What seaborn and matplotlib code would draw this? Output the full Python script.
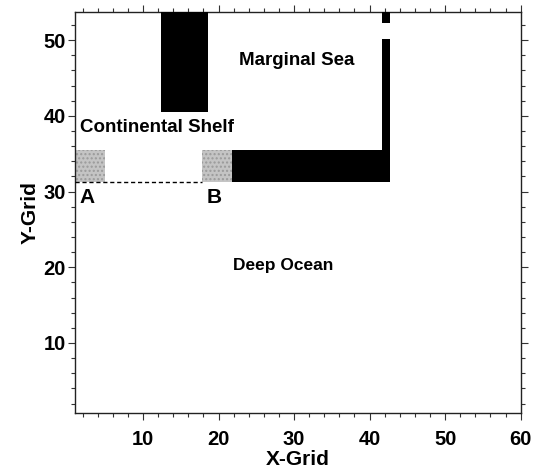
import matplotlib
matplotlib.use("Agg")
import matplotlib.pyplot as plt
from matplotlib.ticker import MultipleLocator
import seaborn as sns

sns.set_style("ticks")
plt.rcParams["font.family"] = ["Liberation Sans", "DejaVu Sans"]
plt.rcParams["text.color"] = "black"
plt.rcParams["axes.labelcolor"] = "black"

# Model domain features (grid units): blocks as x0, x1, y0, y1
land_names = ["ridge", "shelf_edge", "strait_lower", "strait_upper"]
land_x0 = [12.4, 21.75, 41.7, 41.7]
land_x1 = [18.6, 42.7, 42.7, 42.7]
land_y0 = [40.5, 31.3, 31.3, 52.2]
land_y1 = [54.0, 35.5, 50.2, 54.0]

shelf_names = ["A", "B"]
shelf_x0 = [1.0, 17.75]
shelf_x1 = [4.95, 21.75]
shelf_y0 = [31.3, 31.3]
shelf_y1 = [35.5, 35.5]

# Transect between the two shelf points
section_x = [1.0, 17.75]
section_y = [31.3, 31.3]

labels = ["Marginal Sea", "Continental Shelf", "A", "B", "Deep Ocean"]
label_x = [30.4, 1.65, 2.6, 19.4, 28.5]
label_y = [47.3, 38.4, 29.2, 29.2, 20.2]
label_ha = ["center", "left", "center", "center", "center"]
label_size = [13.5, 13.5, 15, 15, 12.5]

fig = plt.figure(figsize=(5.44, 4.71), dpi=100)
ax = fig.add_axes([0.1379, 0.1231, 0.957 - 0.1379, 0.9752 - 0.1231])

ax.bar(shelf_x0, [b - a for a, b in zip(shelf_y0, shelf_y1)],
       width=[b - a for a, b in zip(shelf_x0, shelf_x1)],
       bottom=shelf_y0, align="edge", color="#c4c4c4",
       edgecolor="#9a9a9a", hatch="....", linewidth=0, zorder=2)
ax.bar(land_x0, [b - a for a, b in zip(land_y0, land_y1)],
       width=[b - a for a, b in zip(land_x0, land_x1)],
       bottom=land_y0, align="edge", color="black", linewidth=0, zorder=3)

sns.lineplot(x=section_x, y=section_y, ax=ax, color="black",
             linestyle=(0, (3, 2)), linewidth=1.0, zorder=4)

for t, x, y, ha, fs in zip(labels, label_x, label_y, label_ha, label_size):
    ax.text(x, y, t, ha=ha, va="center", fontsize=fs, fontweight="bold",
            color="black")

ax.set_xlim(1, 60)
ax.set_ylim(0.75, 53.75)
ax.xaxis.set_major_locator(MultipleLocator(10))
ax.xaxis.set_minor_locator(MultipleLocator(2))
ax.yaxis.set_major_locator(MultipleLocator(10))
ax.yaxis.set_minor_locator(MultipleLocator(2))
ax.tick_params(which="both", direction="out", top=True, right=True,
               width=0.8, colors="#333333", labelcolor="black")
ax.tick_params(which="major", length=5, labelsize=14.5)
ax.tick_params(which="minor", length=3)
ax.tick_params(axis="x", which="major", pad=7)
ax.tick_params(axis="y", which="major", pad=1.5)
for lab in ax.get_xticklabels() + ax.get_yticklabels():
    lab.set_fontweight("bold")
for s in ax.spines.values():
    s.set_linewidth(1.0)
    s.set_color("#222222")
    s.set_visible(True)

ax.set_xlabel("X-Grid", fontsize=15, fontweight="bold", labelpad=1)
ax.set_ylabel("Y-Grid", fontsize=15, fontweight="bold", labelpad=3)

fig.savefig("out.png", dpi=100)
